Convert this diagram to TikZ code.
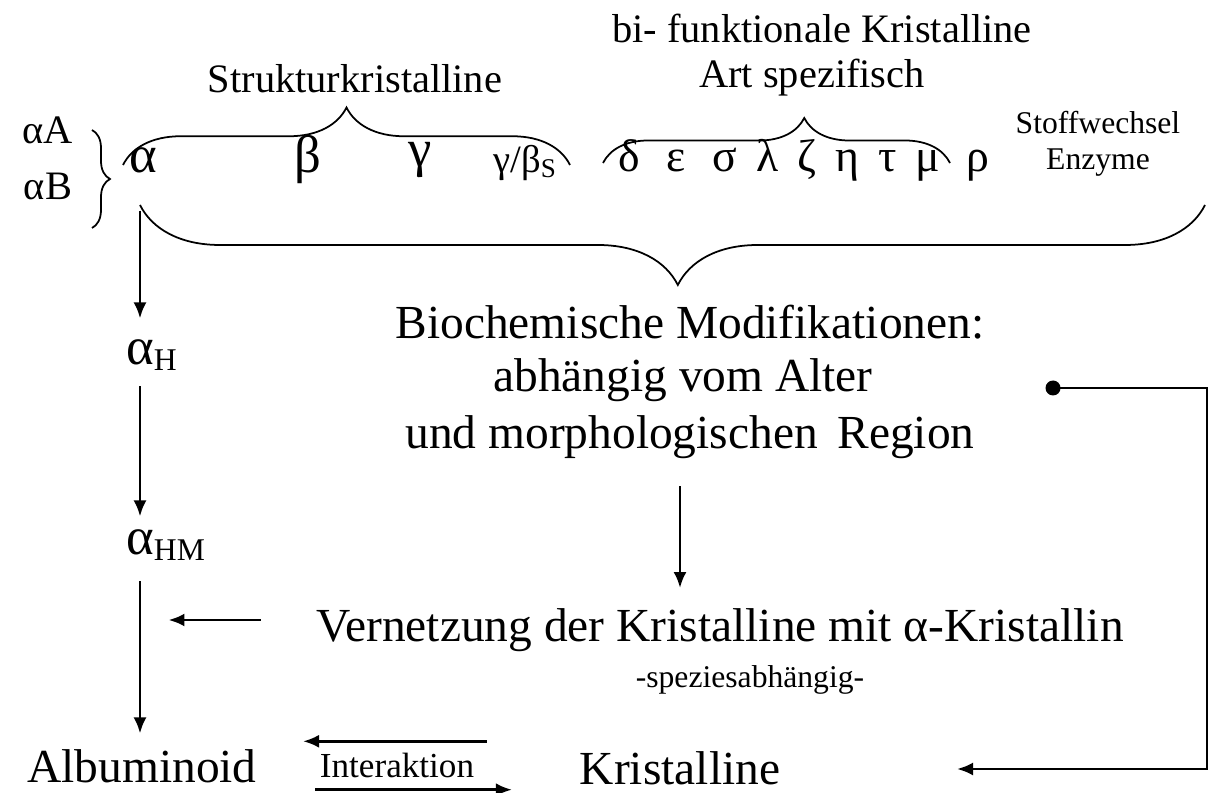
\documentclass[tikz,border=0pt]{standalone}
\usepackage{fontspec}
\setmainfont{Liberation Serif}
\usetikzlibrary{arrows.meta,decorations.pathreplacing}

\begin{document}
\begin{tikzpicture}[x=0.02cm, y=-0.02cm,
    big/.style={inner sep=0pt, font=\fontsize{27}{30}\selectfont},
    mid/.style={inner sep=0pt, font=\fontsize{23}{26}\selectfont},
    small/.style={inner sep=0pt, font=\fontsize{18}{20}\selectfont},
    greek/.style={inner sep=0pt, font=\fontsize{30}{32}\selectfont},
    brace/.style={decorate, line width=1pt,
      decoration={brace, amplitude=#1}},
    arr/.style={line width=1.6pt, -{Latex[length=0.32cm, width=0.26cm]}}]
        \useasboundingbox (0,0) rectangle (1217,793);

        % Structural crystallins.
        \node[mid] (struk) at (355,79) {Strukturkristalline};
        \draw[brace={1.15cm, aspect=0.5}] (123,165) -- (570,165);
        \node[greek] (alpha) at (143,160) {α};
        \node[greek] (beta) at (308,160) {β};
        \node[greek] (gamma) at (420,160) {γ};
        \node[greek, font=\fontsize{22}{24}\selectfont] (gbs) at (525,163)
        {γ/β\textsubscript{S}};

        % Alpha subunits.
        \node[mid] (aA) at (48,130) {αA};
        \node[mid] (aB) at (48,186) {αB};
        \draw[brace={0.36cm}] (92,130) -- (92,228);

        % Bifunctional crystallins.
        \node[mid] (bifunk) at (822,28) {bi- funktionale Kristalline};
        \node[mid] (artspez) at (812,78) {Art spezifisch};
        \draw[brace={0.9cm, aspect=0.58}] (603,163) -- (950,163);
        \node[greek, font=\fontsize{26}{28}\selectfont] (taxon) at (804,160)
        {δ\,\, ε\,\, σ\, λ\, ζ\, η\, τ\, μ\,\, ρ};

        % Enzymes.
        \node[small] (stoff) at (1098,123) {Stoffwechsel};
        \node[small] (enzym) at (1098,163) {Enzyme};

        % Modifications.
        \draw[brace={1.6cm, aspect=0.495}] (1205,205) -- (140,205);
        \node[big] (biochem) at (690,322) {Biochemische Modifikationen:};
        \node[big] (alter) at (683,380) {abhängig vom Alter};
        \node[big] (region) at (690,437) {und morphologischen\, Region};
        \node[big] (vernetz) at (720,630)
        {Vernetzung der Kristalline mit α-Kristallin};
        \node[small] (spezies) at (750,680) {-speziesabhängig-};
        \draw[arr] ([xshift=-0.2cm, yshift=-0.55cm]region.south) -- ([xshift=-0.2cm, yshift=0.4cm]vernetz.north -| region.south);

        % Alpha chain.
        \node[greek, anchor=west] (alphaH) at (126,355) {α\textsubscript{\fontsize{18}{20}\selectfont H}};
        \node[greek, anchor=west] (alphaHM) at (126,545) {α\textsubscript{\fontsize{18}{20}\selectfont HM}};
        \node[big] (albu) at (142,766) {Albuminoid};
        \node[big] (krist) at (680,768) {Kristalline};
        \draw[arr] ([xshift=-0.06cm, yshift=-0.75cm]alpha.south) -- ([xshift=-0.06cm, yshift=0.41cm]alpha.south |- alphaH.north);
        \draw[arr] ([xshift=-0.06cm, yshift=-0.3cm]alpha.south |- alphaH.south) -- ([xshift=-0.06cm, yshift=0.25cm]alpha.south |- alphaHM.north);
        \draw[arr] ([xshift=-0.06cm, yshift=-0.4cm]alpha.south |- alphaHM.south) -- ([xshift=-0.06cm, yshift=0.31cm]alpha.south |- albu.north);
        \draw[arr] ([xshift=-1.1cm, yshift=0.2cm]vernetz.west) -- ([xshift=-2.95cm, yshift=0.2cm]vernetz.west);

        % Interaction.
        \node[small, font=\fontsize{20}{22}\selectfont] (inter) at (397,765) {Interaktion};
        \draw[arr] ([xshift=1.8cm, yshift=0.22cm]inter.north) -- ([xshift=-1.88cm, yshift=0.22cm]inter.north);
        \draw[arr] ([xshift=-1.64cm, yshift=-0.24cm]inter.south) -- ([xshift=2.3cm, yshift=-0.24cm]inter.south);

        % Feedback.
        \coordinate (fbstart) at (1053,388);
        \coordinate (fbend) at (957,769);
        \fill (fbstart) circle (0.15cm);
        \draw[arr] (fbstart) -- (1207,388) |- (fbend);
      \end{tikzpicture}
\end{document}
